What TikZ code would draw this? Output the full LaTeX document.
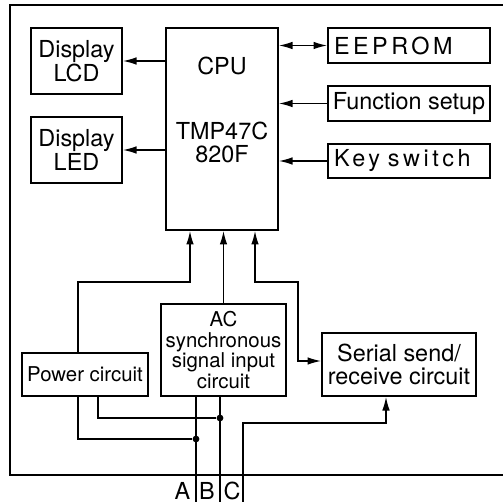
\documentclass[tikz,border=0pt]{standalone}
\usepackage{fontspec}
\setmainfont{TeX Gyre Heros}
\usetikzlibrary{arrows.meta}
\begin{document}
\begin{tikzpicture}[x=0.5pt,y=-0.5pt,
  mainfont/.style={font=\fontsize{11.7}{11.7}\selectfont},
  smallfont/.style={font=\fontsize{10.2}{10.2}\selectfont},
  box/.style={draw,line width=0.9pt,inner sep=0pt,align=center,mainfont},
  txt/.style={inner sep=0pt,align=center,mainfont},
  conn/.style={line width=0.7pt},
  tip/.style={-{Latex[length=6.8pt,width=3.8pt]}},
  dtip/.style={{Latex[length=6.8pt,width=3.8pt]}-{Latex[length=6.8pt,width=3.8pt]}},
  dot/.style={circle,fill,inner sep=0pt,minimum size=3.4pt}]
\useasboundingbox (0,0) rectangle (503,502);
% outer frame (right side lies beyond the picture)
\draw[line width=1.4pt] (503,5) -- (10,5) -- (10,475) -- (503,475);

% blocks
\node[box,minimum width=45.5pt,minimum height=33pt] (lcd) at (76.5,61) {Display\\LCD};
\node[box,minimum width=45.5pt,minimum height=33pt] (led) at (76.5,150) {Display\\LED};
\node[box,minimum width=56pt,minimum height=101pt] (cpu) at (222,129) {};
\node[txt] (cpulbl) at (222,65.5) {CPU};
\node[txt] (chip) at (222,142.5) {TMP47C\\820F};
\node[box,minimum height=17.5pt,text width=75pt,inner xsep=3pt,align=left] (eeprom) at (409,45.5)
  {\addfontfeatures{LetterSpace=15}EEPROM};
\node[box,minimum width=81pt,minimum height=17.5pt] (func) at (409,103.5) {Function setup};
\node[box,minimum height=17pt,text width=75pt,inner xsep=3pt,align=left] (key) at (409,161)
  {\addfontfeatures{LetterSpace=15}Key switch};
\node[box,smallfont,minimum width=63pt,minimum height=21.5pt] (power) at (85,374.5) {Power circuit};
\node[box,smallfont,minimum width=62.5pt,minimum height=46pt] (ac) at (223.5,350) {AC\\synchronous\\signal input\\circuit};
\node[box,minimum width=77pt,minimum height=31.5pt] (serial) at (399,364.5) {Serial send/\\receive circuit};

% CPU outputs / inputs
\draw[conn,tip] (cpu.west |- lcd) -- (lcd.east);
\draw[conn,tip] (cpu.west |- led) -- (led.east);
\draw[conn,dtip] (cpu.east |- eeprom) -- (eeprom.west);
\draw[conn,tip] (func.west) -- (func.west -| cpu.east);
\draw[conn,tip] (key.west) -- (key.west -| cpu.east);

% power -> CPU
\coordinate (pw) at (78,282);
\coordinate (cl) at (190,282);
\draw[conn,tip] (power.north -| pw) -- (pw) -- (cl) -- (cl |- cpu.south);
% AC -> CPU
\draw[conn,tip] (ac.north) -- (ac.north |- cpu.south);
% CPU <-> serial
\coordinate (sr1) at (255,282);
\coordinate (sr2) at (298,282);
\coordinate (sr3) at (298,361);
\draw[conn,dtip] (sr1 |- cpu.south) -- (sr1) -- (sr2) -- (sr3) -- (sr3 -| serial.west);

% power bottom connections
\node[dot] (da) at (196,439) {};
\node[dot] (db) at (220,418) {};
\coordinate (pa) at (78,439);
\coordinate (pb) at (98,418);
\draw[conn] (power.south -| pa) -- (pa) -- (da);
\draw[conn] (power.south -| pb) -- (pb) -- (db);

% terminal lines
\coordinate (aend) at (196,502);
\coordinate (bend) at (220,502);
\coordinate (cend) at (243,502);
\draw[conn] (ac.south -| aend) -- (aend);
\draw[conn] (ac.south -| bend) -- (bend);
\coordinate (c1) at (243,423);
\coordinate (c2) at (386,423);
\draw[conn,tip] (cend) -- (c1) -- (c2) -- (c2 |- serial.south);

% terminal labels
\node[txt,anchor=base] (la) at (182.5,499) {A};
\node[txt,anchor=base] (lb) at (207,499) {B};
\node[txt,anchor=base] (lc) at (232,499) {C};
\end{tikzpicture}
\end{document}
